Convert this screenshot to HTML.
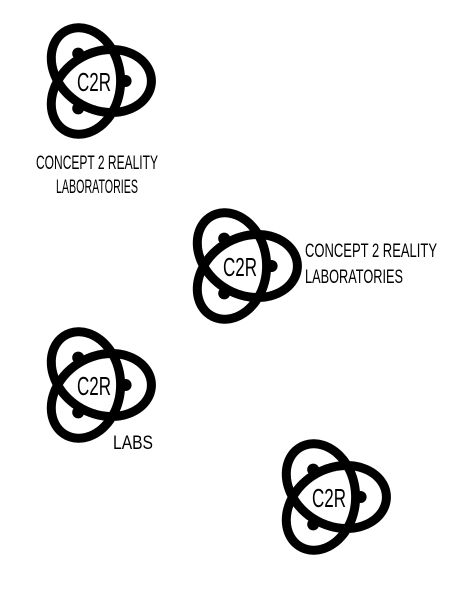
<!DOCTYPE html>
<html><head><meta charset="utf-8"><style>
body{margin:0;background:#fff;width:464px;height:600px;overflow:hidden}
svg{position:absolute;left:0;top:0}
text{font-family:"Liberation Sans",sans-serif;fill:#000}
</style></head><body>
<svg width="464" height="600" viewBox="0 0 464 600">
<defs>
<g id="mark"><g id="markin" transform="translate(-3 0)">
<path id="knot" fill="none" stroke="#000" stroke-width="9" stroke-linejoin="round"/>
<circle id="d0" r="6"/><circle id="d1" r="6"/><circle id="d2" r="6"/>
</g></g>
</defs>
<g>
<use href="#mark" x="97" y="81"/>
<text x="94" y="91" font-size="26" text-anchor="middle" textLength="34" lengthAdjust="spacingAndGlyphs">C2R</text>
<text x="97" y="169" font-size="19" text-anchor="middle" textLength="122" lengthAdjust="spacingAndGlyphs">CONCEPT 2 REALITY</text>
<text x="97" y="193" font-size="19" text-anchor="middle" textLength="82" lengthAdjust="spacingAndGlyphs">LABORATORIES</text>
</g>
<g>
<use href="#mark" x="243" y="266"/>
<text x="240" y="276" font-size="26" text-anchor="middle" textLength="34" lengthAdjust="spacingAndGlyphs">C2R</text>
<text x="305" y="257" font-size="19" textLength="132" lengthAdjust="spacingAndGlyphs">CONCEPT 2 REALITY</text>
<text x="305" y="283" font-size="19" textLength="98" lengthAdjust="spacingAndGlyphs">LABORATORIES</text>
</g>
<g>
<use href="#mark" x="97" y="385"/>
<text x="94" y="395" font-size="26" text-anchor="middle" textLength="34" lengthAdjust="spacingAndGlyphs">C2R</text>
<text x="113" y="449" font-size="19" textLength="40" lengthAdjust="spacingAndGlyphs">LABS</text>
</g>
<g>
<use href="#mark" x="332" y="497"/>
<text x="329" y="507" font-size="26" text-anchor="middle" textLength="34" lengthAdjust="spacingAndGlyphs">C2R</text>
</g>
</svg>
<script>
var p=1.1,q=3.0,s=14,rot=Math.PI/2+Math.PI/3,d='';
function tr(x,y){return [(x*Math.cos(rot)-y*Math.sin(rot))*s,(x*Math.sin(rot)+y*Math.cos(rot))*s];}
for(var i=0;i<=360;i++){
  var t=i/360*2*Math.PI;
  var P=tr(p*Math.sin(t)+q*Math.sin(2*t), -(p*Math.cos(t)-q*Math.cos(2*t)));
  d+=(i?'L':'M')+P[0].toFixed(2)+' '+P[1].toFixed(2);
}
document.getElementById('knot').setAttribute('d',d+'Z');
for(var k=0;k<3;k++){
  var a=rot+Math.PI/2+k*2*Math.PI/3, r=(q-p)*s+5;
  var c=document.getElementById('d'+k);
  c.setAttribute('cx',(r*Math.cos(a)).toFixed(2));
  c.setAttribute('cy',(r*Math.sin(a)).toFixed(2));
}
</script>
</body></html>
